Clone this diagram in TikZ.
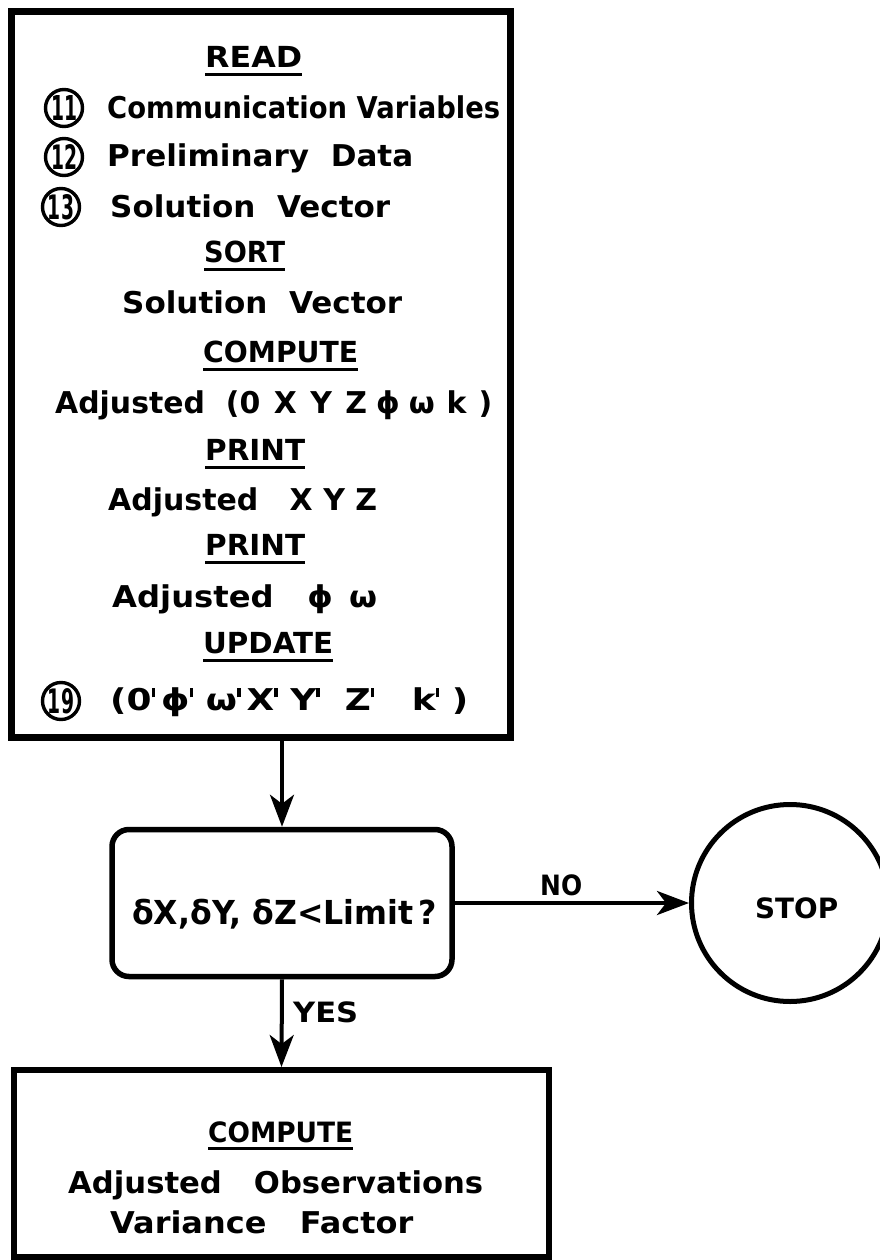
\documentclass[tikz,border=0pt]{standalone}
\usepackage{graphicx}
\usepackage{fontspec}
\setmainfont{DejaVu Sans}
\usetikzlibrary{arrows.meta}
\newcommand\fitw[2]{\resizebox{#1}{\height}{#2}}
\newcommand\prm{\raisebox{0.42em}{\rule{0.1em}{0.3em}}}
\begin{document}
\begin{tikzpicture}[x=1pt,y=-1pt,
  txt/.style={anchor=base west, inner sep=0pt, font=\fontsize{30}{32}\selectfont\bfseries},
  htxt/.style={anchor=base west, inner sep=0pt, font=\fontsize{29}{30}\selectfont\bfseries},
  ltxt/.style={anchor=base west, inner sep=0pt, font=\fontsize{28}{30}\selectfont\bfseries},
  ulbar/.style={line width=3pt},
  bigbox/.style={draw, line width=7pt, inner sep=0pt},
  botbox/.style={draw, line width=6pt, inner sep=0pt},
  decbox/.style={draw, line width=5.5pt, rounded corners=17pt, inner sep=0pt},
  stopc/.style={draw, circle, line width=5pt, inner sep=0pt, minimum size=197pt},
  numc/.style={draw, circle, line width=3.4pt, inner sep=0pt, minimum size=37pt},
  numt/.style={inner sep=0pt, font=\fontsize{29}{30}\selectfont\bfseries},
  conn/.style={line width=4pt, -{Stealth[length=32pt,width=24pt,inset=9pt]}}]
\path[use as bounding box] (0,0) rectangle (880,1260);

% top box
\node[bigbox, minimum width=499pt, minimum height=725pt] (top) at (260.5,374.5) {};
\node[htxt] (h1) at (205,68) {\fitw{97pt}{READ}};
\node[numc] (c11) at (64,108) {};
\node[numt] (n11) at (c11) {\resizebox{26pt}{25pt}{11}};
\node[txt] (l1) at (107,119) {\fitw{393pt}{Communication Variables}};
\node[numc] (c12) at (64,157) {};
\node[numt] (n12) at (c12) {\resizebox{26pt}{25pt}{12}};
\node[txt] (l2) at (107,167) {\fitw{306pt}{Preliminary\ \ Data}};
\node[numc] (c13) at (61,207) {};
\node[numt] (n13) at (c13) {\resizebox{26pt}{25pt}{13}};
\node[txt] (l3) at (110,218) {\fitw{280pt}{Solution\ \ Vector}};
\node[htxt] (h2) at (204,262) {\fitw{81pt}{SORT}};
\node[txt] (l4) at (122,313) {\fitw{280pt}{Solution\ \ Vector}};
\node[htxt] (h3) at (203,362) {\fitw{155pt}{COMPUTE}};
\node[txt] (l5) at (55,413) {\fitw{437pt}{Adjusted\ \ (0\hspace{0.45em}X\hspace{0.45em}Y\hspace{0.45em}Z\hspace{0.3em}ϕ\hspace{0.3em}ω\hspace{0.4em}k\hspace{0.4em})}};
\node[htxt] (h4) at (205,460) {\fitw{100pt}{PRINT}};
\node[txt] (l6) at (108,510) {\fitw{269pt}{Adjusted\ \ \ X\hspace{0.35em}Y\hspace{0.35em}Z}};
\node[htxt] (h5) at (205,555) {\fitw{100pt}{PRINT}};
\node[txt] (l7) at (112,607) {\fitw{265pt}{Adjusted\ \ \ ϕ\hspace{0.5em}ω}};
\node[htxt] (h6) at (203,653) {\fitw{130pt}{UPDATE}};
\node[numc] (c19) at (61,701) {};
\node[numt] (n19) at (c19) {\resizebox{26pt}{25pt}{19}};
\node[txt] (l8) at (110,710) {\fitw{358pt}{(0\prm\,ϕ\prm\ ω\prm\,X\prm\ Y\prm\ \ Z\prm\ \ \ k\prm\ )}};
\foreach \n in {h1,h2,h3,h4,h5,h6}
  \draw[ulbar] ([yshift=-7pt]\n.base west) -- ([yshift=-7pt]\n.base east);

% decision
\node[decbox, minimum width=340pt, minimum height=147pt] (dec) at (282,903) {};
\node[anchor=base west, inner sep=0pt, font=\fontsize{33}{35}\selectfont\bfseries] (dtxt) at (132,924) {\fitw{305pt}{δX,δY,\ δZ<Limit\,?}};

% stop
\node[stopc] (stop) at (790,903) {};
\node[ltxt] (stoptxt) at (755,918) {\fitw{83pt}{STOP}};

% bottom box
\node[botbox, minimum width=535pt, minimum height=187pt] (bot) at (281.5,1163.5) {};
\node[ltxt] (b1) at (208,1142) {\fitw{145pt}{COMPUTE}};
\draw[ulbar] ([yshift=-6pt]b1.base west) -- ([yshift=-6pt]b1.base east);
\node[txt] (b2) at (68,1193) {\fitw{415pt}{Adjusted\ \ \ Observations}};
\node[txt] (b3) at (110,1233) {\fitw{303pt}{Variance\ \ \ Factor}};

% connectors
\draw[conn] (top.south -| dec.north) -- (dec.north);
\draw[conn] (dec.east) -- (stop.west);
\draw[conn] (dec.south) -- (bot.north);
\node[ltxt] (no) at (540,895) {\fitw{42pt}{NO}};
\node[ltxt] (yes) at (293,1022) {\fitw{65pt}{YES}};
\end{tikzpicture}
\end{document}
